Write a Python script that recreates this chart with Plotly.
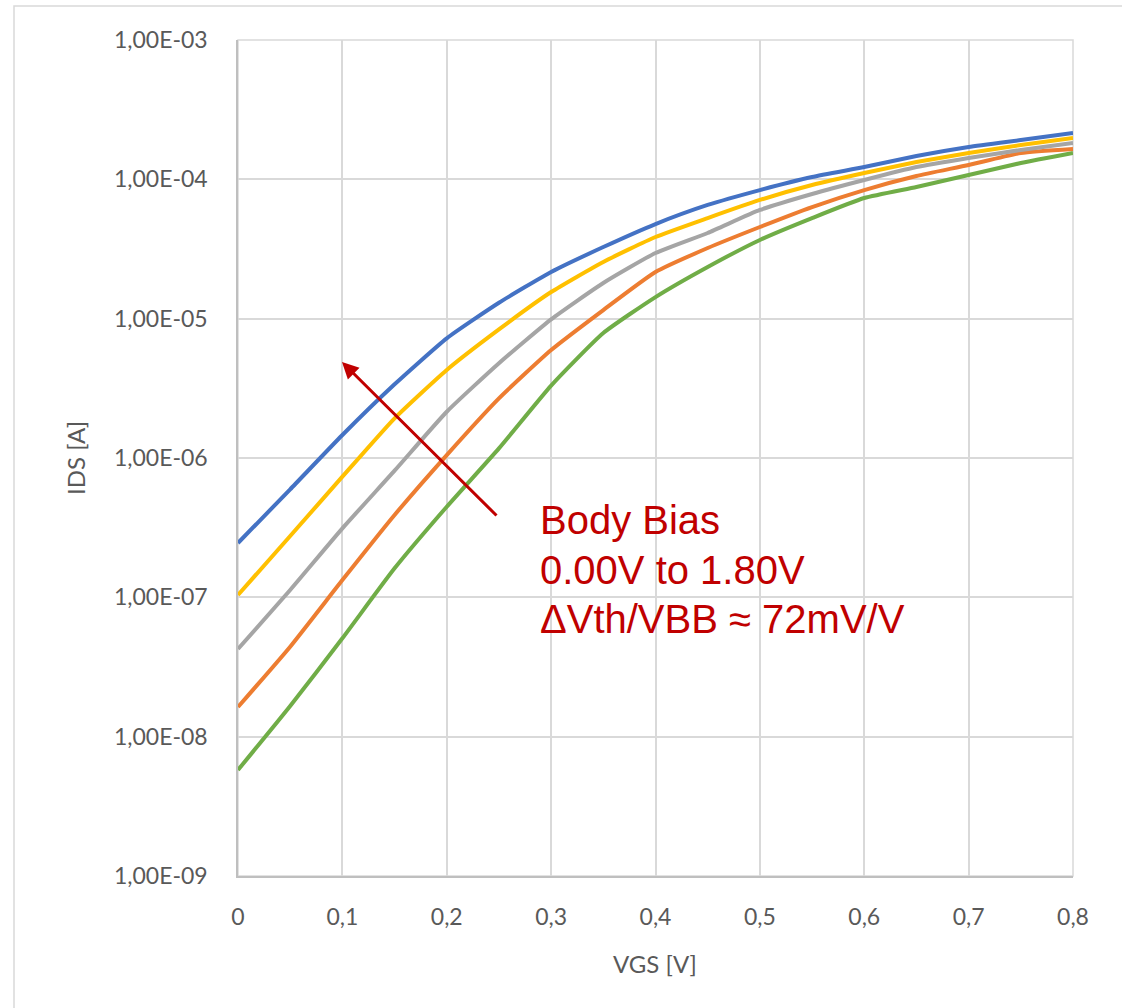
import plotly.graph_objects as go

# ---- data ----
vgs = [0.00, 0.05, 0.10, 0.15, 0.20, 0.25, 0.30, 0.35, 0.40,
       0.45, 0.50, 0.55, 0.60, 0.65, 0.70, 0.75, 0.80]

# log10(IDS) per body-bias series
log_ids_0 = [-6.610, -6.225, -5.835, -5.471, -5.141, -4.886, -4.665, -4.486, -4.321,
             -4.184, -4.077, -3.983, -3.912, -3.833, -3.768, -3.718, -3.667]
log_ids_1 = [-6.983, -6.560, -6.134, -5.715, -5.368, -5.077, -4.809, -4.593, -4.414,
             -4.278, -4.148, -4.041, -3.955, -3.876, -3.811, -3.754, -3.703]
log_ids_2 = [-7.371, -6.947, -6.505, -6.091, -5.668, -5.320, -5.005, -4.744, -4.529,
             -4.385, -4.220, -4.105, -4.005, -3.912, -3.847, -3.789, -3.739]
log_ids_3 = [-7.787, -7.354, -6.876, -6.409, -5.979, -5.572, -5.225, -4.938, -4.665,
             -4.493, -4.342, -4.199, -4.077, -3.976, -3.897, -3.811, -3.782]
log_ids_4 = [-8.239, -7.780, -7.294, -6.792, -6.350, -5.931, -5.480, -5.103, -4.845,
             -4.629, -4.435, -4.278, -4.134, -4.055, -3.969, -3.883, -3.811]

series_names = ["VBB 0.00V", "VBB 0.45V", "VBB 0.90V", "VBB 1.35V", "VBB 1.80V"]
series_colors = ["#4472C4", "#FFC000", "#A5A5A5", "#ED7D31", "#70AD47"]

x_tickvals = [0, 0.1, 0.2, 0.3, 0.4, 0.5, 0.6, 0.7, 0.8]
x_ticktext = ["0", "0,1", "0,2", "0,3", "0,4", "0,5", "0,6", "0,7", "0,8"]
y_tickvals = [1e-9, 1e-8, 1e-7, 1e-6, 1e-5, 1e-4, 1e-3]
y_ticktext = ["1,00E-09", "1,00E-08", "1,00E-07", "1,00E-06", "1,00E-05", "1,00E-04", "1,00E-03"]

annotation_lines = ["Body Bias", "0.00V to 1.80V", "\u0394Vth/VBB \u2248 72mV/V"]

# ---- figure ----
W, H = 1122, 1008
L, R, T, B = 238, 1073, 40, 876
pw, ph = R - L, B - T

def px(xp):
    return (xp - L) / pw

def py(yp):
    return (B - yp) / ph

fig = go.Figure()
all_series = [log_ids_4, log_ids_3, log_ids_2, log_ids_1, log_ids_0]
names = series_names[::-1]
colors = series_colors[::-1]
for ys, nm, col in zip(all_series, names, colors):
    fig.add_trace(go.Scatter(
        x=vgs, y=[10 ** v for v in ys], mode="lines", name=nm,
        line=dict(color=col, width=4, shape="spline", smoothing=0.5),
        showlegend=False))

FONT = "Lato, Open Sans, sans-serif"
tick_font = dict(family=FONT, size=23, color="#595959")

fig.update_layout(
    width=W, height=H,
    margin=dict(l=L, r=W - R, t=T, b=H - B, autoexpand=False),
    paper_bgcolor="white", plot_bgcolor="white",
    showlegend=False,
    xaxis=dict(range=[0, 0.8], tickvals=x_tickvals, ticktext=x_ticktext,
               showgrid=True, gridcolor="#d9d9d9", gridwidth=1.5,
               showline=True, linecolor="#bfbfbf", linewidth=1.5,
               ticks="", ticklabelstandoff=20, tickfont=tick_font,
               zeroline=False, fixedrange=True),
    yaxis=dict(type="log", range=[-9, -3], tickvals=y_tickvals, ticktext=y_ticktext,
               showgrid=True, gridcolor="#d9d9d9", gridwidth=1.5,
               showline=True, linecolor="#bfbfbf", linewidth=1.5,
               ticks="", ticklabelstandoff=24, tickfont=tick_font,
               zeroline=False, fixedrange=True),
    shapes=[
        dict(type="rect", xref="paper", yref="paper", x0=0, x1=1, y0=0, y1=1,
             line=dict(color="#d9d9d9", width=1.5), layer="below"),
        dict(type="rect", xref="paper", yref="paper",
             x0=px(14), x1=px(1135), y0=py(1020), y1=py(6),
             line=dict(color="#d9d9d9", width=1.5), layer="below"),
    ],
)

# axis titles
fig.add_annotation(text="VGS [V]", xref="paper", yref="paper", x=px(655), y=py(963),
                   showarrow=False, xanchor="center", yanchor="middle",
                   font=dict(family=FONT, size=24, color="#595959"))
fig.add_annotation(text="IDS [A]", xref="paper", yref="paper", x=px(75), y=py(458),
                   showarrow=False, xanchor="center", yanchor="middle", textangle=-90,
                   font=dict(family=FONT, size=24, color="#595959"))

# arrow (tail at lower right, head upper left)
tail_x, tail_y = (498 - L) / pw * 0.8, -3 - (517 - T) / ph * 6
head_x, head_y = (342 - L) / pw * 0.8, -3 - (362 - T) / ph * 6
fig.add_annotation(x=head_x, y=head_y, ax=tail_x, ay=tail_y,
                   xref="x", yref="y", axref="x", ayref="y",
                   text="", showarrow=True, arrowhead=2, arrowsize=1.1,
                   arrowwidth=3, arrowcolor="#C00000")

# annotation text
for line, yc in zip(annotation_lines, [520, 570, 619]):
    fig.add_annotation(text=line, xref="paper", yref="paper", x=px(538), y=py(yc),
                       showarrow=False, xanchor="left", yanchor="middle",
                       font=dict(family="Liberation Sans, Arial, sans-serif", size=40,
                                 color="#C00000"))

fig.write_html("out.html")
